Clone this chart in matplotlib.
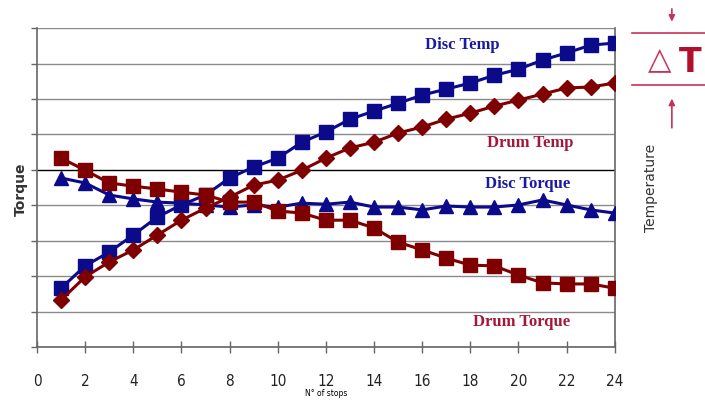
import matplotlib.pyplot as plt

# N° of stops
stops = list(range(1, 25))

# values (arbitrary units, gridlines every 1)
disc_temp = [1.66, 2.29, 2.68, 3.16, 3.67, 4.01, 4.29, 4.77, 5.08, 5.33, 5.78, 6.07,
             6.43, 6.66, 6.88, 7.11, 7.28, 7.45, 7.67, 7.84, 8.10, 8.30, 8.52, 8.58]
drum_temp = [1.33, 1.98, 2.40, 2.74, 3.16, 3.58, 3.92, 4.23, 4.57, 4.71, 4.99, 5.33,
             5.62, 5.78, 6.04, 6.21, 6.43, 6.60, 6.80, 6.97, 7.14, 7.31, 7.34, 7.45]
disc_torque = [4.77, 4.63, 4.29, 4.18, 4.09, 4.06, 4.01, 3.95, 4.01, 3.95, 4.06, 4.03,
               4.09, 3.95, 3.95, 3.87, 3.98, 3.95, 3.95, 4.01, 4.15, 4.01, 3.87, 3.78]
drum_torque = [5.33, 4.99, 4.63, 4.54, 4.46, 4.37, 4.29, 4.09, 4.09, 3.84, 3.78, 3.58,
               3.58, 3.36, 2.96, 2.74, 2.51, 2.31, 2.29, 2.03, 1.81, 1.78, 1.78, 1.66]

x_ticks = list(range(0, 25, 2))

BLUE = "#0a0a8a"
RED = "#7f0000"
LBL_BLUE = "#1a1aa0"
LBL_RED = "#a3183a"
DT_RED = "#c83258"

fig = plt.figure(figsize=(7.05, 4.08), dpi=100)
ax = fig.add_axes([0.0525, 0.1495, 0.8195, 0.7815])

# grid
for yv in range(0, 10):
    ax.axhline(yv, color="black" if yv == 5 else "#8a8a8a", lw=1.0, zorder=1)

ax.plot(stops, disc_temp, color=BLUE, lw=2.2, marker="s", ms=9.5, zorder=3)
ax.plot(stops, disc_torque, color=BLUE, lw=2.2, marker="^", ms=9.5, zorder=3)
ax.plot(stops, drum_temp, color=RED, lw=2.2, marker="D", ms=8, zorder=4)
ax.plot(stops, drum_torque, color=RED, lw=2.2, marker="s", ms=9.5, zorder=4)

ax.set_xlim(0, 24)
ax.set_ylim(0, 9)
ax.set_yticks(range(0, 10))
ax.set_yticklabels([])
ax.set_xticks(x_ticks)
ax.set_xticklabels([str(t) for t in x_ticks], family="DejaVu Sans",
                   stretch="condensed", fontsize=11)
ax.tick_params(axis="x", direction="inout", length=9, width=1, color="#666666",
               pad=15, labelcolor="#222222")
ax.tick_params(axis="y", direction="out", length=4, width=1, color="#666666")
for s in ["left", "right", "bottom"]:
    ax.spines[s].set_color("#666666")
    ax.spines[s].set_linewidth(1.2)
ax.spines["top"].set_visible(False)

ax.set_xlabel("N° of stops", fontsize=5.5, labelpad=0)

# series labels
lbl = dict(family="Liberation Serif", fontweight="bold", fontsize=12,
           ha="center", va="center")
ax.text(17.65, 8.52, "Disc Temp", color=LBL_BLUE, **lbl)
ax.text(20.47, 5.76, "Drum Temp", color=LBL_RED, **lbl)
ax.text(20.39, 4.60, "Disc Torque", color=LBL_BLUE, **lbl)
ax.text(20.14, 0.71, "Drum Torque", color=LBL_RED, **lbl)

# axis titles
fig.text(0.029, 0.535, "Torque", rotation=90, ha="center", va="center",
         fontsize=10, fontweight="bold", color="#333333")
fig.text(0.923, 0.54, "Temperature", rotation=90, ha="center", va="center",
         fontsize=10, color="#333333")

# delta T marker
fig.add_artist(plt.Line2D([0.896, 1.0], [0.919, 0.919], color=DT_RED, lw=1.2))
fig.add_artist(plt.Line2D([0.896, 1.0], [0.792, 0.792], color=DT_RED, lw=1.2))
fig.text(0.935, 0.853, "\u25b3", ha="center", va="center", fontsize=22,
         color=DT_RED)
fig.text(0.979, 0.848, "T", ha="center", va="center", fontsize=24,
         fontweight="bold", color="#b0102c")
ax.annotate("", xy=(0.953, 0.94), xytext=(0.953, 0.985), xycoords="figure fraction",
            arrowprops=dict(arrowstyle="-|>", color=DT_RED, lw=1.2,
                            mutation_scale=9))
ax.annotate("", xy=(0.953, 0.765), xytext=(0.953, 0.68), xycoords="figure fraction",
            arrowprops=dict(arrowstyle="-|>", color=DT_RED, lw=1.2,
                            mutation_scale=9))

fig.savefig("out.png", dpi=100)
